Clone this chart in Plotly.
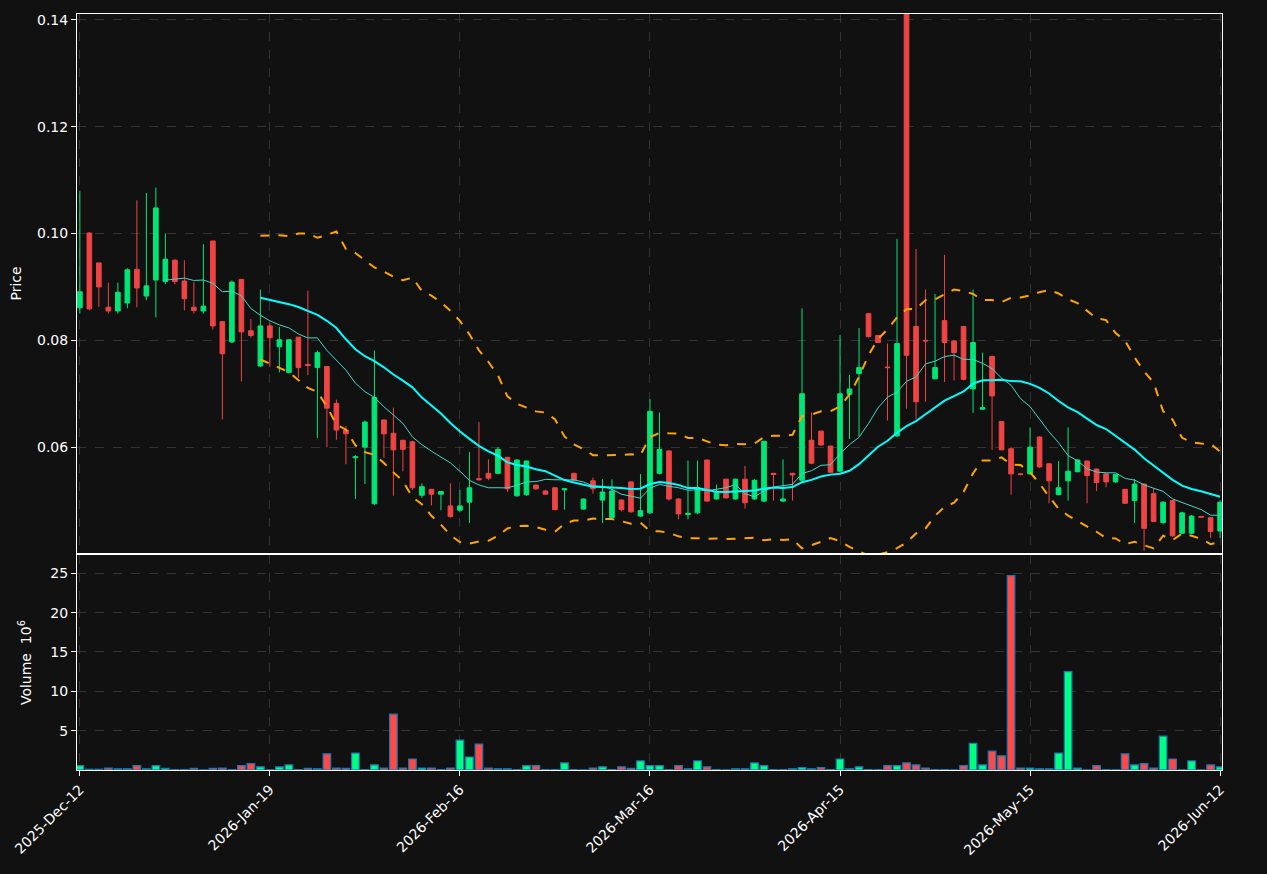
import pandas as pd
import plotly.graph_objects as go
from plotly.subplots import make_subplots

tick_idx = [0, 20, 40, 60, 80, 100, 120]
tick_labels = ["2025-Dec-12", "2026-Jan-19", "2026-Feb-16", "2026-Mar-16", "2026-Apr-15", "2026-May-15", "2026-Jun-12"]

opens = [0.0861,0.1001,0.0945,0.0862,0.0855,0.0870,0.0933,0.0883,0.0913,0.0910,0.0950,0.0911,0.0862,0.0855,0.0986,0.0835,0.0797,0.0914,0.0818,0.0752,
         0.0827,0.0788,0.0740,0.0806,0.0755,0.0749,0.0751,0.0682,0.0632,0.0580,0.0600,0.0494,0.0651,0.0626,0.0613,0.0610,0.0510,0.0521,0.0512,0.0490,
         0.0482,0.0497,0.0541,0.0551,0.0551,0.0581,0.0509,0.0511,0.0529,0.0518,0.0524,0.0520,0.0551,0.0484,0.0537,0.0501,0.0468,0.0501,0.0535,0.0471,
         0.0477,0.0551,0.0593,0.0503,0.0474,0.0477,0.0576,0.0503,0.0540,0.0503,0.0540,0.0503,0.0499,0.0551,0.0499,0.0551,0.0538,0.0613,0.0630,0.0602,
         0.0555,0.0699,0.0738,0.0850,0.0809,0.0750,0.0621,0.1450,0.0826,0.0800,0.0728,0.0837,0.0799,0.0826,0.0709,0.0671,0.0770,0.0648,0.0597,0.0550,
         0.0550,0.0619,0.0569,0.0511,0.0537,0.0554,0.0574,0.0559,0.0550,0.0535,0.0521,0.0500,0.0531,0.0513,0.0459,0.0500,0.0439,0.0439,0.0470,0.0468,
         0.0443]
highs = [0.1080,0.1002,0.0945,0.0908,0.0908,0.0935,0.1062,0.1076,0.1086,0.1000,0.0952,0.0950,0.0909,0.0980,0.0986,0.0835,0.0912,0.0914,0.0840,0.0895,
         0.0833,0.0825,0.0802,0.0806,0.0893,0.0781,0.0751,0.0689,0.0640,0.0585,0.0650,0.0781,0.0651,0.0674,0.0613,0.0612,0.0532,0.0522,0.0517,0.0532,
         0.0520,0.0591,0.0647,0.0577,0.0600,0.0581,0.0577,0.0575,0.0530,0.0520,0.0524,0.0523,0.0552,0.0504,0.0543,0.0540,0.0540,0.0502,0.0536,0.0550,
         0.0690,0.0665,0.0594,0.0504,0.0575,0.0575,0.0576,0.0530,0.0541,0.0541,0.0565,0.0540,0.0612,0.0552,0.0577,0.0552,0.0860,0.0665,0.0631,0.0603,
         0.0810,0.0735,0.0823,0.0851,0.0810,0.0794,0.0990,0.1500,0.0971,0.0895,0.0887,0.0960,0.0800,0.0827,0.0895,0.0777,0.0771,0.0649,0.0600,0.0551,
         0.0637,0.0620,0.0570,0.0574,0.0637,0.0577,0.0575,0.0560,0.0551,0.0550,0.0522,0.0540,0.0532,0.0524,0.0499,0.0501,0.0479,0.0473,0.0471,0.0469,
         0.0500]
lows = [0.0850,0.0856,0.0863,0.0850,0.0850,0.0860,0.0862,0.0875,0.0843,0.0905,0.0905,0.0856,0.0850,0.0850,0.0820,0.0652,0.0795,0.0723,0.0805,0.0750,
        0.0750,0.0740,0.0738,0.0730,0.0735,0.0617,0.0600,0.0614,0.0568,0.0503,0.0531,0.0492,0.0580,0.0509,0.0555,0.0520,0.0505,0.0491,0.0482,0.0468,
        0.0478,0.0458,0.0538,0.0538,0.0550,0.0516,0.0507,0.0509,0.0520,0.0511,0.0482,0.0483,0.0537,0.0483,0.0513,0.0458,0.0466,0.0480,0.0477,0.0469,
        0.0475,0.0549,0.0500,0.0465,0.0465,0.0475,0.0498,0.0502,0.0504,0.0502,0.0485,0.0502,0.0497,0.0500,0.0497,0.0500,0.0536,0.0568,0.0603,0.0552,
        0.0554,0.0615,0.0620,0.0805,0.0795,0.0650,0.0619,0.0672,0.0653,0.0685,0.0727,0.0722,0.0725,0.0725,0.0664,0.0670,0.0595,0.0594,0.0511,0.0547,
        0.0549,0.0561,0.0495,0.0510,0.0500,0.0553,0.0495,0.0518,0.0525,0.0533,0.0494,0.0458,0.0406,0.0460,0.0455,0.0432,0.0437,0.0437,0.0468,0.0430,
        0.0430]
closes = [0.0891,0.0859,0.0900,0.0855,0.0890,0.0932,0.0898,0.0902,0.1048,0.0952,0.0910,0.0878,0.0856,0.0864,0.0827,0.0775,0.0909,0.0816,0.0809,0.0827,
          0.0805,0.0801,0.0801,0.0749,0.0753,0.0777,0.0673,0.0632,0.0625,0.0582,0.0647,0.0693,0.0625,0.0595,0.0596,0.0524,0.0526,0.0512,0.0517,0.0470,
          0.0490,0.0524,0.0539,0.0542,0.0596,0.0522,0.0576,0.0574,0.0522,0.0512,0.0483,0.0522,0.0538,0.0503,0.0522,0.0516,0.0518,0.0483,0.0479,0.0481,
          0.0667,0.0596,0.0503,0.0475,0.0476,0.0524,0.0499,0.0515,0.0505,0.0540,0.0496,0.0538,0.0611,0.0549,0.0503,0.0548,0.0700,0.0570,0.0604,0.0553,
          0.0700,0.0709,0.0749,0.0807,0.0796,0.0749,0.0794,0.0772,0.0685,0.0799,0.0749,0.0796,0.0777,0.0727,0.0796,0.0674,0.0696,0.0595,0.0550,0.0549,
          0.0600,0.0563,0.0537,0.0524,0.0555,0.0576,0.0547,0.0534,0.0535,0.0549,0.0495,0.0531,0.0448,0.0461,0.0497,0.0434,0.0477,0.0471,0.0469,0.0442,
          0.0497]
volumes = [0.55,0.10,0.10,0.25,0.15,0.15,0.55,0.15,0.55,0.20,0.05,0.05,0.20,0.02,0.20,0.25,0.05,0.55,0.80,0.40,
           0.02,0.40,0.65,0.05,0.20,0.15,2.05,0.25,0.20,2.15,0.05,0.65,0.25,7.10,0.25,1.40,0.25,0.25,0.05,0.25,
           3.80,1.65,3.30,0.25,0.15,0.15,0.05,0.55,0.55,0.05,0.05,0.90,0.05,0.02,0.25,0.40,0.05,0.40,0.20,1.15,
           0.55,0.55,0.05,0.55,0.15,1.15,0.40,0.05,0.02,0.15,0.15,0.90,0.55,0.05,0.05,0.15,0.30,0.15,0.30,0.05,
           1.40,0.15,0.40,0.05,0.05,0.55,0.55,0.90,0.65,0.25,0.05,0.05,0.02,0.55,3.40,0.65,2.40,1.80,24.70,0.25,
           0.25,0.15,0.15,2.15,12.50,0.25,0.02,0.55,0.05,0.02,2.05,0.65,0.80,0.25,4.30,1.40,0.02,1.15,0.02,0.65,
           0.40]

idx = list(range(len(closes)))
s = pd.Series(closes)
sma20 = s.rolling(20).mean()
sma10 = s.rolling(10).mean()
std20 = s.rolling(20).std(ddof=0)
upper = sma20 + 2 * std20
lower = sma20 - 2 * std20

GREEN = "#00e676"
RED = "#ef4444"
BG = "#111111"

fig = make_subplots(rows=2, cols=1, shared_xaxes=True, vertical_spacing=0.003, row_heights=[0.715, 0.285])

fig.add_trace(go.Candlestick(x=idx, open=opens, high=highs, low=lows, close=closes,
                             increasing=dict(line=dict(color=GREEN, width=1), fillcolor=GREEN),
                             decreasing=dict(line=dict(color=RED, width=1), fillcolor=RED),
                             whiskerwidth=0, showlegend=False), row=1, col=1)
fig.add_trace(go.Scatter(x=idx, y=upper, mode="lines", line=dict(color="#ffa500", width=2, dash="dash"), showlegend=False), row=1, col=1)
fig.add_trace(go.Scatter(x=idx, y=lower, mode="lines", line=dict(color="#ffa500", width=2, dash="dash"), showlegend=False), row=1, col=1)
fig.add_trace(go.Scatter(x=idx, y=sma10, mode="lines", line=dict(color="#40d8c8", width=1), showlegend=False), row=1, col=1)
fig.add_trace(go.Scatter(x=idx, y=sma20, mode="lines", line=dict(color="#00ffff", width=2), showlegend=False), row=1, col=1)

vcolors = ["#00ff80" if c >= o else "#ff4848" for o, c in zip(opens, closes)]
fig.add_trace(go.Bar(x=idx, y=volumes, marker=dict(color=vcolors, line=dict(color="#1f77b4", width=1.2)),
                     width=0.8, showlegend=False), row=2, col=1)

axis_common = dict(showline=True, linecolor="white", linewidth=1, mirror=True,
                   gridcolor="#333333", griddash="dash", zeroline=False,
                   tickfont=dict(color="white", size=14, family="DejaVu Sans"),
                   ticks="outside", tickcolor="white")
fig.update_xaxes(**axis_common, range=[-0.3, 120.2], tickvals=tick_idx, ticktext=tick_labels,
                 rangeslider_visible=False)
fig.update_xaxes(showticklabels=False, row=1, col=1)
fig.update_xaxes(tickangle=-45, row=2, col=1)
fig.update_yaxes(**axis_common)
fig.update_yaxes(range=[0.0402, 0.1411], tickvals=[0.06, 0.08, 0.10, 0.12, 0.14], tickformat=".2f",
                 title=dict(text="Price", font=dict(color="white", size=14, family="DejaVu Sans")), row=1, col=1)
fig.update_yaxes(range=[0.0, 27.3], tickvals=[5, 10, 15, 20, 25],
                 title=dict(text="Volume  10<sup>6</sup>", font=dict(color="white", size=14, family="DejaVu Sans")), row=2, col=1)

fig.update_layout(width=1267, height=874, paper_bgcolor=BG, plot_bgcolor=BG,
                  margin=dict(l=69, r=53, t=4, b=112), bargap=0.2)

fig.write_html("out.html", config={"displayModeBar": False},
               post_script="document.body.style.background='#111111';document.documentElement.style.background='#111111';")
